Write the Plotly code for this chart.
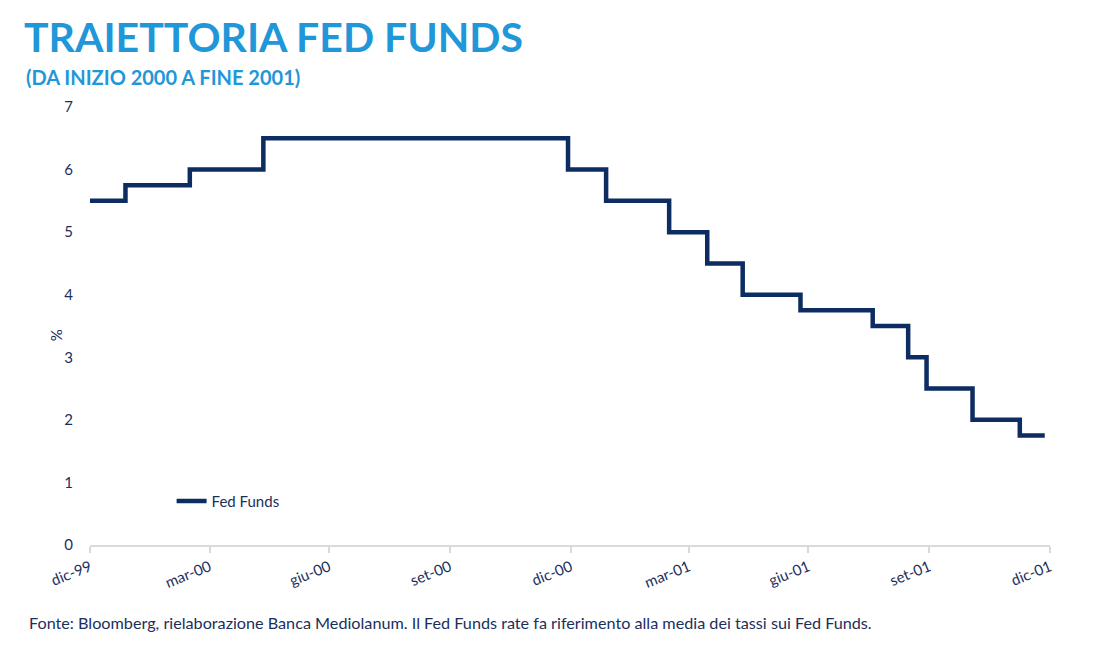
import plotly.graph_objects as go

# Step dates (rate changes) and levels (%)
dates = ["1999-12-31", "2000-01-27", "2000-03-16", "2000-05-11", "2000-12-29",
         "2001-01-27", "2001-03-16", "2001-04-14", "2001-05-11", "2001-06-24",
         "2001-08-18", "2001-09-14", "2001-09-28", "2001-11-02", "2001-12-08",
         "2001-12-27"]
fed_funds = [5.50, 5.75, 6.00, 6.50, 6.00, 5.50, 5.00, 4.50, 4.00, 3.75,
             3.50, 3.00, 2.50, 2.00, 1.75, 1.75]

tick_vals = ["1999-12-31", "2000-03-31", "2000-06-30", "2000-09-30", "2000-12-31",
             "2001-03-31", "2001-06-30", "2001-09-30", "2001-12-31"]
tick_text = ["dic-99", "mar-00", "giu-00", "set-00", "dic-00",
             "mar-01", "giu-01", "set-01", "dic-01"]
y_ticks = [0, 1, 2, 3, 4, 5, 6, 7]

NAVY = "#0c2c62"
TEXT = "#1b2f5c"
BLUE = "#1f97d9"
FONT = "Lato"

fig = go.Figure()
fig.add_trace(go.Scatter(
    x=dates, y=fed_funds, mode="lines", name="Fed Funds",
    line=dict(color=NAVY, width=4.5, shape="hv"),
))

fig.update_layout(
    width=1100, height=650,
    margin=dict(l=82, r=58, t=99, b=113),
    paper_bgcolor="white", plot_bgcolor="white",
    font=dict(family=FONT, color=TEXT, size=15),
    showlegend=True,
    legend=dict(x=0.085, y=0.1, xanchor="left", yanchor="middle",
                bgcolor="rgba(0,0,0,0)", font=dict(size=15, color=TEXT),
                itemwidth=30),
    xaxis=dict(
        type="date", range=["1999-12-31", "2001-12-31"],
        tickmode="array", tickvals=tick_vals, ticktext=tick_text,
        tickangle=-22, showgrid=False, zeroline=False,
        showline=True, linecolor="#d9d9d9", linewidth=1.5,
        ticks="outside", ticklen=6, tickcolor="#d9d9d9", tickwidth=1.5,
        tickfont=dict(size=15, color=TEXT),
    ),
    yaxis=dict(
        range=[0, 7], tickmode="array", tickvals=y_ticks,
        showgrid=False, zeroline=False, showline=False,
        ticks="", ticklabelstandoff=16,
        tickfont=dict(size=15, color=TEXT),
    ),
)

fig.add_annotation(text="%", xref="paper", yref="paper", x=-0.036, y=0.48,
                   xanchor="center", yanchor="middle", showarrow=False, textangle=-90,
                   font=dict(size=15, color=TEXT, family=FONT))
fig.add_annotation(text="<b>TRAIETTORIA FED FUNDS</b>", xref="paper", yref="paper",
                   x=-0.071, y=1.16, xanchor="left", yanchor="middle", showarrow=False,
                   font=dict(size=41, color=BLUE, family=FONT))
fig.add_annotation(text="<b>(DA INIZIO 2000 A FINE 2001)</b>", xref="paper", yref="paper",
                   x=-0.069, y=1.068, xanchor="left", yanchor="middle", showarrow=False,
                   font=dict(size=20, color=BLUE, family=FONT))
fig.add_annotation(text="Fonte: Bloomberg, rielaborazione Banca Mediolanum. Il Fed Funds rate fa riferimento alla media dei tassi sui Fed Funds.",
                   xref="paper", yref="paper", x=-0.066, y=-0.176,
                   xanchor="left", yanchor="middle", showarrow=False,
                   font=dict(size=16.2, color=TEXT, family=FONT))

fig.write_html("out.html")
